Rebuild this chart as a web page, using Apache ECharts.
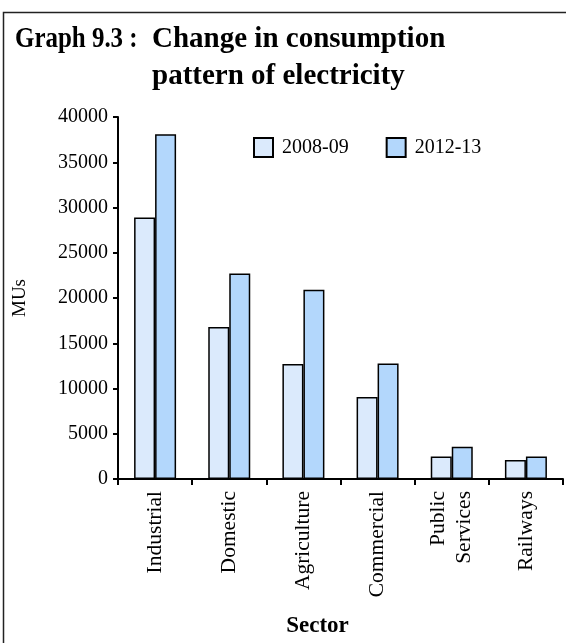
<!DOCTYPE html>
<html>
<head>
<meta charset="utf-8">
<script src="https://cdn.jsdelivr.net/npm/echarts@6/dist/echarts.min.js"></script>
<style>
html,body{margin:0;padding:0;background:#fff;}
#chart{width:566px;height:643px;}
</style>
</head>
<body>
<div id="chart"></div>
<script>
var categories = ['Industrial', 'Domestic', 'Agriculture', 'Commercial', 'Public\nServices', 'Railways'];
var seriesNames = ['2008-09', '2012-13'];
var values2008 = [28900, 16800, 12700, 9050, 2500, 2100];
var values2012 = [38100, 22700, 20900, 12750, 3550, 2500];
var yTicks = { min: 0, max: 40000, interval: 5000 };

var FONT = '"Liberation Serif", "Times New Roman", serif';
var colors = ['#dbeafc', '#b3d7fc'];

var chart = echarts.init(document.getElementById('chart'), null, { renderer: 'canvas' });
chart.setOption({
  backgroundColor: '#fff',
  animation: false,
  textStyle: { fontFamily: FONT, color: '#000' },
  graphic: [
    { type: 'rect', shape: { x: 3.5, y: 12.5, width: 700, height: 800 },
      style: { fill: 'none', stroke: '#222', lineWidth: 1.5 }, z: 0 },
    { type: 'text', x: 15, y: 25, scaleX: 0.86,
      style: { text: 'Graph 9.3 :', font: 'bold 29px ' + FONT, fill: '#000' } },
    { type: 'text', x: 152, y: 25,
      style: { text: 'Change in consumption', font: 'bold 29px ' + FONT, fill: '#000' } },
    { type: 'text', x: 152, y: 62,
      style: { text: 'pattern of electricity', font: 'bold 29px ' + FONT, fill: '#000' } }
  ],
  legend: {
    left: 253, top: 137, padding: 0,
    itemWidth: 19, itemHeight: 19, itemGap: 37,
    icon: 'rect',
    textStyle: { fontFamily: FONT, fontSize: 20, color: '#000', padding: [0, 0, 0, 4] },
    data: seriesNames
  },
  grid: { left: 118, right: 3, top: 117, bottom: 158, containLabel: false },
  xAxis: {
    type: 'category',
    data: categories,
    name: 'Sector',
    nameLocation: 'middle',
    nameGap: 136,
    nameTextStyle: { fontFamily: FONT, fontSize: 23, fontWeight: 'bold', color: '#000', padding: [0, 46, 0, 0] },
    axisLine: { lineStyle: { color: '#000', width: 2 } },
    axisTick: { show: true, length: 6, lineStyle: { color: '#000', width: 2 }, alignWithLabel: false },
    axisLabel: { rotate: 90, margin: 12, fontFamily: FONT, fontSize: 21.5, color: '#000', lineHeight: 26, interval: 0 }
  },
  yAxis: {
    type: 'value',
    min: yTicks.min, max: yTicks.max, interval: yTicks.interval,
    name: 'MUs',
    nameLocation: 'middle',
    nameGap: 88,
    nameRotate: 90,
    nameTextStyle: { fontFamily: FONT, fontSize: 19, color: '#000' },
    axisLine: { show: true, lineStyle: { color: '#000', width: 2 } },
    axisTick: { show: true, length: 5, lineStyle: { color: '#000', width: 2 } },
    axisLabel: { margin: 10, fontFamily: FONT, fontSize: 20, color: '#000',
      formatter: function (v) { return String(v); } },
    splitLine: { show: false }
  },
  series: [
    { name: seriesNames[0], type: 'bar', data: values2008, barWidth: 21, barGap: '0%',
      itemStyle: { color: colors[0], borderColor: '#000', borderWidth: 1.5 } },
    { name: seriesNames[1], type: 'bar', data: values2012, barWidth: 21, barGap: '0%',
      itemStyle: { color: colors[1], borderColor: '#000', borderWidth: 1.5 } }
  ]
});
</script>
</body>
</html>
